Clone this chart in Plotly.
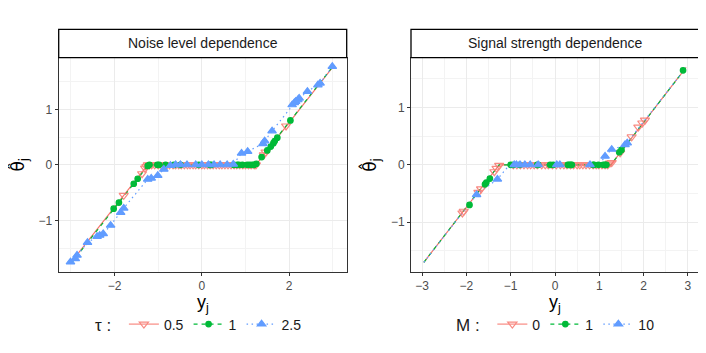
import plotly.graph_objects as go

RED = "#F8766D"
GREEN = "#00BA38"
BLUE = "#619CFF"
FONT = "Liberation Sans, Arial, sans-serif"

# ---- panel 1: noise level dependence (tau) ----
tau_labels = ["0.5", "1", "2.5"]

noise_red_line_x = [-3.0, -1.24, 1.24, 3.0]
noise_red_line_y = [-1.76, 0.0, 0.0, 1.76]
noise_red_pts = [
    (-1.79, -0.55), (-1.37, -0.16), (-1.3, -0.06), (-1.27, -0.03),
    (-1.24, 0), (-1.2, 0), (-1.15, 0), (-1.08, 0), (-1.0, 0), (-0.93, 0),
    (-0.86, 0), (-0.8, 0), (-0.74, 0), (-0.66, 0), (-0.6, 0), (-0.53, 0),
    (-0.47, 0), (-0.4, 0), (-0.33, 0), (-0.27, 0), (-0.2, 0), (-0.14, 0),
    (-0.07, 0), (0.0, 0), (0.06, 0), (0.13, 0), (0.19, 0), (0.26, 0),
    (0.33, 0), (0.4, 0), (0.46, 0), (0.53, 0), (0.6, 0), (0.67, 0),
    (0.74, 0), (0.8, 0), (0.87, 0), (0.94, 0), (1.0, 0), (1.07, 0),
    (1.13, 0), (1.2, 0), (1.24, 0), (1.42, 0.18), (1.46, 0.23), (1.93, 0.7),
]

noise_green_line_x = [-3.0, -1.22, 1.23, 3.0]
noise_green_line_y = [-1.78, 0.0, 0.0, 1.77]
noise_green_pts = [
    (-2.02, -0.79), (-1.9, -0.68), (-1.56, -0.34), (-1.47, -0.25),
    (-1.24, -0.02), (-1.2, 0), (-1.02, 0), (-0.98, 0), (-0.83, 0),
    (-0.64, 0), (-0.49, 0), (-0.07, 0), (0.18, 0), (0.22, 0), (0.73, 0),
    (0.81, 0), (0.85, 0), (0.93, 0), (1.04, 0), (1.1, 0), (1.16, 0),
    (1.2, 0), (1.25, 0.02), (1.37, 0.14), (1.5, 0.26), (1.58, 0.33),
    (1.64, 0.39), (1.67, 0.43), (1.73, 0.49), (2.03, 0.8),
]

noise_blue_pts = [
    (-3.01, -1.75), (-2.9, -1.69), (-2.86, -1.63), (-2.62, -1.4),
    (-2.4, -1.29), (-2.34, -1.27), (-2.26, -1.24), (-2.09, -1.09),
    (-1.86, -0.86), (-1.79, -0.78), (-1.24, -0.26), (-1.16, -0.24),
    (-1.01, -0.19), (-0.87, -0.08), (-0.72, -0.01), (-0.6, 0), (-0.49, 0),
    (-0.34, 0), (-0.14, 0), (0.0, 0), (0.15, 0), (0.28, 0), (0.42, 0),
    (0.58, 0), (0.72, 0.01), (0.91, 0.21), (1.05, 0.24), (1.4, 0.38),
    (1.44, 0.43), (1.61, 0.61), (2.07, 1.08), (2.12, 1.12), (2.15, 1.14),
    (2.2, 1.17), (2.23, 1.2), (2.42, 1.32), (2.66, 1.44), (2.71, 1.47),
    (2.99, 1.77),
]

# ---- panel 2: signal strength dependence (M) ----
m_labels = ["0", "1", "10"]

signal_red_line_x = [-2.96, -1.26, 1.26, 2.96]
signal_red_line_y = [-1.7, 0.0, 0.0, 1.7]
signal_red_pts = [
    (-2.09, -0.84), (-2.06, -0.81), (-1.73, -0.48), (-1.67, -0.42),
    (-1.37, -0.12), (-1.32, -0.06), (-1.26, -0.01), (-0.94, 0), (-0.86, 0),
    (-0.78, 0), (-0.7, 0), (-0.62, 0), (-0.55, 0), (-0.47, 0), (-0.4, 0),
    (-0.3, 0), (-0.22, 0), (-0.15, 0), (-0.06, 0), (0.03, 0), (0.12, 0),
    (0.2, 0), (0.27, 0), (0.35, 0), (0.42, 0), (0.5, 0), (0.56, 0),
    (0.63, 0), (0.7, 0), (0.78, 0), (0.86, 0), (0.93, 0), (0.99, 0),
    (1.06, 0), (1.13, 0), (1.19, 0), (1.24, 0.03), (1.28, 0.04),
    (1.47, 0.21), (1.73, 0.49), (1.88, 0.66), (1.97, 0.73), (2.03, 0.78),
]

signal_green_line_x = [-2.96, -1.26, 1.26, 2.96]
signal_green_line_y = [-1.7, 0.0, 0.0, 1.7]
signal_green_pts = [
    (-1.93, -0.7), (-1.58, -0.34), (-1.55, -0.31), (-1.47, -0.24),
    (-1.0, 0), (-0.94, 0), (-0.8, 0), (-0.4, 0), (-0.38, 0), (-0.11, 0),
    (-0.04, 0), (0.29, 0), (0.32, 0), (0.36, 0), (0.38, 0), (0.86, 0),
    (0.88, 0), (0.98, 0), (1.09, 0), (1.13, 0), (1.16, 0), (1.45, 0.22),
    (1.5, 0.26), (2.89, 1.65),
]

signal_blue_line_x = [-2.96, -1.77, -1.3, -1.09, -0.92, 1.0, 1.13, 1.28, 1.58, 2.96]
signal_blue_line_y = [-1.7, -0.52, -0.25, -0.06, 0.0, 0.0, 0.15, 0.27, 0.34, 1.7]
signal_blue_pts = [
    (-1.77, -0.52), (-1.3, -0.25), (-0.92, 0), (-0.87, 0), (-0.79, 0),
    (-0.68, 0), (-0.56, 0), (-0.38, 0), (0.04, 0), (0.11, 0), (0.79, 0),
    (1.13, 0.15), (1.28, 0.27), (1.58, 0.35), (1.63, 0.38),
]

styles = [
    dict(color=RED, dash="solid", symbol="triangle-down-open", size=8, opacity=0.85),
    dict(color=GREEN, dash="4px,4px", symbol="circle", size=5.5, opacity=1.0),
    dict(color=BLUE, dash="1.5px,3.5px", symbol="triangle-up", size=7.5, opacity=1.0),
]

panels = [
    dict(xa="x", ya="y", legend="legend", labels=tau_labels,
         series=[(noise_red_line_x, noise_red_line_y, noise_red_pts),
                 (noise_green_line_x, noise_green_line_y, noise_green_pts),
                 ([p[0] for p in noise_blue_pts], [p[1] for p in noise_blue_pts], noise_blue_pts)]),
    dict(xa="x2", ya="y2", legend="legend2", labels=m_labels,
         series=[(signal_red_line_x, signal_red_line_y, signal_red_pts),
                 (signal_green_line_x, signal_green_line_y, signal_green_pts),
                 (signal_blue_line_x, signal_blue_line_y, signal_blue_pts)]),
]

fig = go.Figure()

for panel in panels:
    for (lx, ly, pts), st in zip(panel["series"], styles):
        fig.add_trace(go.Scatter(
            x=lx, y=ly, mode="lines", xaxis=panel["xa"], yaxis=panel["ya"],
            line=dict(color=st["color"], dash=st["dash"], width=1.2),
            showlegend=False, hoverinfo="skip"))
    for (lx, ly, pts), st in zip(panel["series"], styles):
        fig.add_trace(go.Scatter(
            x=[p[0] for p in pts], y=[p[1] for p in pts], mode="markers",
            xaxis=panel["xa"], yaxis=panel["ya"], opacity=st["opacity"],
            marker=dict(color=st["color"], symbol=st["symbol"], size=st["size"],
                        line=dict(color=st["color"], width=1.2)),
            showlegend=False))
    # legend-only entries
    for label, st in zip(panel["labels"], styles):
        fig.add_trace(go.Scatter(
            x=[None], y=[None], mode="lines+markers", name=label,
            xaxis=panel["xa"], yaxis=panel["ya"], legend=panel["legend"],
            line=dict(color=st["color"], dash=st["dash"], width=1.2),
            marker=dict(color=st["color"], symbol=st["symbol"], size=st["size"],
                        line=dict(color=st["color"], width=1.2)),
            opacity=st["opacity"]))

# page body has an 8px margin, so the figure is laid out in a 698x345 box
W, H, OFF = 698, 345, 8
px = lambda p: (p - OFF) / W
py = lambda p: (353 - p) / H

ydom = [py(272), py(57.7)]
grid = dict(showgrid=True, gridcolor="#EBEBEB", gridwidth=1.1, zeroline=False,
            showline=True, mirror=True, linecolor="#333333", linewidth=1,
            ticks="outside", ticklen=3, tickcolor="#333333", automargin=False,
            tickfont=dict(family=FONT, size=12, color="#4D4D4D"))
minor = dict(showgrid=True, gridcolor="#F3F3F3", gridwidth=0.6)

fig.update_layout(
    width=W, height=H,
    margin=dict(l=0, r=0, t=0, b=0, autoexpand=False),
    paper_bgcolor="white", plot_bgcolor="white",
    font=dict(family=FONT, color="#1A1A1A"),
    xaxis=dict(domain=[px(58.7), px(346.7)], range=[-3.28, 3.32], anchor="y",
               tick0=0, dtick=2, minor=dict(dtick=1, **minor), **grid),
    yaxis=dict(domain=ydom, range=[-1.93, 1.93], anchor="x",
               tick0=0, dtick=1, minor=dict(dtick=0.5, **minor), **grid),
    xaxis2=dict(domain=[px(411), px(699)], range=[-3.25, 3.25], anchor="y2",
                tick0=0, dtick=1, minor=dict(dtick=0.5, **minor), **grid),
    yaxis2=dict(domain=ydom, range=[-1.87, 1.87], anchor="x2",
                tick0=0, dtick=1, minor=dict(dtick=0.5, **minor), **grid),
    legend=dict(orientation="h", x=px(200), xanchor="center",
                y=py(325), yanchor="middle",
                title=dict(text="τ : ", side="left", font=dict(size=17)),
                font=dict(size=14, color="#1A1A1A"), itemwidth=30,
                bgcolor="rgba(0,0,0,0)"),
    legend2=dict(orientation="h", x=px(557), xanchor="center",
                 y=py(325), yanchor="middle",
                 title=dict(text="M : ", side="left", font=dict(size=17)),
                 font=dict(size=14, color="#1A1A1A"), itemwidth=30,
                 bgcolor="rgba(0,0,0,0)"),
)

strip_h = 28.4 / 214.3
for xa, ya, title in [("x", "y", "Noise level dependence"),
                      ("x2", "y2", "Signal strength dependence")]:
    fig.add_shape(type="rect", xref=f"{xa} domain", yref=f"{ya} domain",
                  x0=0, x1=1, y0=1, y1=1 + strip_h,
                  line=dict(color="black", width=1.3), fillcolor="white")
    fig.add_annotation(xref=f"{xa} domain", yref=f"{ya} domain", x=0.5,
                       y=1 + strip_h / 2, text=title, showarrow=False,
                       font=dict(family=FONT, size=14, color="#1A1A1A"),
                       xanchor="center", yanchor="middle")
    fig.add_annotation(xref=f"{xa} domain", yref=f"{ya} domain", x=0.5,
                       y=1 - (289.5 - 57.7) / 214.3, text="y<sub>j</sub>",
                       showarrow=False, font=dict(family=FONT, size=18, color="black"),
                       xanchor="center", yanchor="top")
    fig.add_annotation(xref=f"{xa} domain", yref=f"{ya} domain", x=-40 / 288,
                       y=0.5, text="θ\u0302<sub>j</sub>", textangle=-90,
                       showarrow=False,
                       font=dict(family="DejaVu Sans, sans-serif", size=17, color="black"),
                       xanchor="center", yanchor="middle")

fig.write_html("out.html")
